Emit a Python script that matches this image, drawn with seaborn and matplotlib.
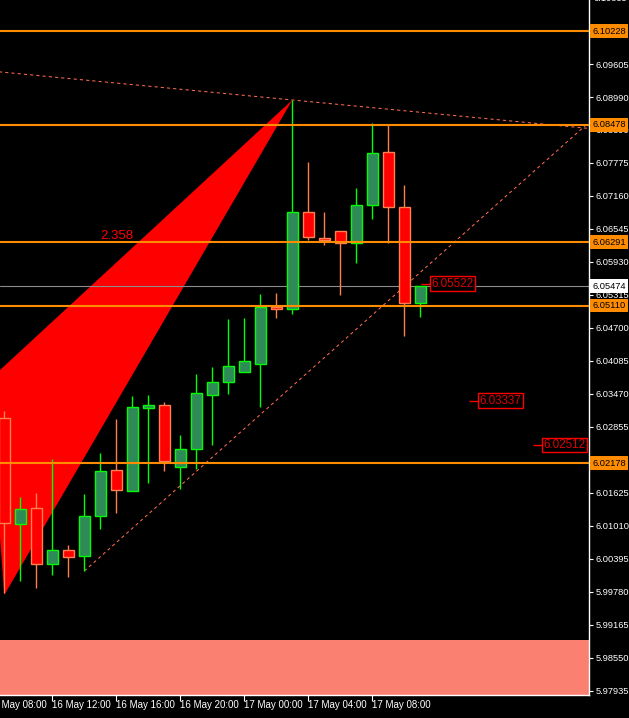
import numpy as np
import pandas as pd
import seaborn as sns
import matplotlib
matplotlib.use("Agg")
import matplotlib.pyplot as plt
import matplotlib.transforms as mtransforms
from matplotlib.patches import Polygon

# ---------------- data ----------------
# hourly candles, index 0 = 16 May 09:00
opens  = [6.03017, 6.01042, 6.01340, 6.00296, 6.00557, 6.00445, 6.01191, 6.02048, 6.01657,
          6.03203, 6.03259, 6.02104, 6.02439, 6.03446, 6.03688, 6.03874, 6.04023, 6.05085,
          6.05048, 6.06856, 6.06371, 6.06502, 6.06278, 6.06986, 6.07974, 6.06949, 6.05160]
highs  = [6.03148, 6.01545, 6.01620, 6.02253, 6.00650, 6.01601, 6.02365, 6.02998, 6.03427,
          6.03446, 6.03315, 6.02700, 6.03837, 6.03967, 6.04862, 6.04880, 6.05328, 6.05346,
          6.08943, 6.07787, 6.06856, 6.06502, 6.07303, 6.08514, 6.08495, 6.07359, 6.05474]
lows   = [5.99756, 5.99980, 5.99849, 6.00091, 6.00054, 6.00166, 6.00949, 6.01247, 6.01657,
          6.01806, 6.02029, 6.01694, 6.02067, 6.02514, 6.03464, 6.03874, 6.03222, 6.04880,
          6.04955, 6.06334, 6.06241, 6.05309, 6.05905, 6.06725, 6.06278, 6.04545, 6.04899]
closes = [6.01060, 6.01321, 6.00296, 6.00557, 6.00427, 6.01191, 6.02029, 6.01675, 6.03222,
          6.03259, 6.02216, 6.02439, 6.03483, 6.03688, 6.03986, 6.04079, 6.05085, 6.05048,
          6.06856, 6.06390, 6.06334, 6.06278, 6.06986, 6.07955, 6.06949, 6.05160, 6.05474]

tick_pos    = [-1, 3, 7, 11, 15, 19, 23]
tick_labels = ["16 May 08:00", "16 May 12:00", "16 May 16:00", "16 May 20:00",
               "17 May 00:00", "17 May 04:00", "17 May 08:00"]

ytick_vals   = [6.09605, 6.08990, 6.08390, 6.07775, 6.07160, 6.06545, 6.05930, 6.05315,
                6.04700, 6.04085, 6.03470, 6.02855, 6.01625, 6.01010, 6.00395, 5.99780,
                5.99165, 5.98550, 5.97935]
ytick_labels = ["6.09605", "6.08990", "6.08390", "6.07775", "6.07160", "6.06545", "6.05930",
                "6.05315", "6.04700", "6.04085", "6.03470", "6.02855", "6.01625", "6.01010",
                "6.00395", "5.99780", "5.99165", "5.98550", "5.97935"]
top_label = "6.10835"

levels = [6.10228, 6.08478, 6.06291, 6.05110, 6.02178]
bid = 6.05474

tri_x = [-1.0, 0.0, 18.0]
tri_y = [6.03710, 5.99720, 6.08943]

trend1_x = [-1, 37]
trend1_y = [6.09487, 6.08399]
trend2_x = [5, 37]
trend2_y = [6.00166, 6.08648]

ratio_text = "2.358"
ratio_x, ratio_y = 5.98, 6.06408

box_idx = [26, 29, 33]
box_vals = [6.05522, 6.03337, 6.02512]

zone_low, zone_high = 5.97800, 5.98880

# ---------------- style ----------------
sns.set_theme(style="dark", rc={"axes.facecolor": "black", "figure.facecolor": "black"})
plt.rcParams['font.family'] = ['Liberation Sans', 'DejaVu Sans']

fig = plt.figure(figsize=(6.29, 7.18), dpi=100)
fig.patch.set_facecolor("black")
ax = fig.add_axes([0, 23 / 718, 589 / 629, 695 / 718])
ax.set_facecolor("black")
ax.set_xlim(-0.27, 36.54)
ax.set_ylim(5.97855, 6.10806)

x = np.arange(len(opens))
o = np.array(opens); h = np.array(highs); l = np.array(lows); c = np.array(closes)
up = c >= o
dn = ~up

# zone
ax.axhspan(zone_low, zone_high, color="#FA8072", lw=0, zorder=1)
# triangle
ax.add_patch(Polygon(list(zip(tri_x, tri_y)), closed=True, fc="#FF0000", ec="none", zorder=1.5))
# bid line
ax.axhline(bid, color="#8C8C8C", lw=0.8, zorder=2)
# trend lines
for tx, ty in [(trend1_x, trend1_y), (trend2_x, trend2_y)]:
    sns.lineplot(x=tx, y=ty, ax=ax, color="#FF6A4D", lw=0.75, linestyle=(0, (3, 3)),
                 zorder=2.2, legend=False)

# candles
ax.vlines(x[up], l[up], h[up], color="#00FF00", lw=1.0, zorder=3)
ax.vlines(x[dn], l[dn], h[dn], color="#FF7F50", lw=1.0, zorder=3)
bh = np.abs(c - o)
bh = np.where(bh < 0.00008, 0.00008, bh)
ax.bar(x[up], bh[up], bottom=np.minimum(o, c)[up], width=0.66, color="#2E8B57",
       edgecolor="#00FF00", lw=1.0, zorder=3.5)
ax.bar(x[dn], bh[dn], bottom=np.minimum(o, c)[dn], width=0.66, color="#FF0000",
       edgecolor="#FF7F50", lw=1.0, zorder=3.5)

# horizontal levels
for lv in levels:
    ax.axhline(lv, color="#FF8C00", lw=1.5, zorder=4)

# ratio text
ax.text(ratio_x, ratio_y, ratio_text, color="#FF0000", fontsize=9.5, ha="left", va="center", zorder=5)

# boxed price labels
for bi, bv in zip(box_idx, box_vals):
    ax.hlines(bv, bi + 0.04, bi + 0.67, color="#FF0000", lw=1.0, zorder=5)
    ax.text(bi + 0.69, bv, f"{bv:.5f}", color="#E00000", fontsize=8.4, ha="left", va="center",
            zorder=5, bbox=dict(boxstyle="square,pad=0.12", fc="black", ec="#FF0000", lw=1.0))

# spines
for s in ["left", "top"]:
    ax.spines[s].set_visible(False)
for s in ["right", "bottom"]:
    ax.spines[s].set_visible(True)
    ax.spines[s].set_color("white")
    ax.spines[s].set_linewidth(1.0)

# y axis on right
ax.yaxis.tick_right()
ax.set_yticks(ytick_vals)
ax.set_yticklabels(ytick_labels)
ax.tick_params(axis="y", colors="white", labelcolor="white", labelsize=6.7, length=3, width=0.8,
               pad=1.5, direction="out", right=True, left=False)
ax.grid(False)

# x axis ticks
ax.set_xticks([p for p in tick_pos if p >= 0])
ax.set_xticklabels([])
ax.tick_params(axis="x", colors="white", length=4, width=0.8, direction="out", bottom=True)
tr_x = mtransforms.blended_transform_factory(ax.transData, ax.transAxes)
for p, lab in zip(tick_pos, tick_labels):
    ax.text(p - 0.05, -5 / 695, lab, transform=tr_x, color="white", fontsize=7,
            ha="left", va="top", clip_on=False)

# highlighted right-axis labels
tr_y = mtransforms.blended_transform_factory(ax.transAxes, ax.transData)
for lv in levels:
    ax.text(1 + 3.5 / 589, lv, f"{lv:.5f}", transform=tr_y, fontsize=6.7, color="black",
            ha="left", va="center", clip_on=False, zorder=10,
            bbox=dict(boxstyle="square,pad=0.25", fc="#FF8C00", ec="none"))
ax.text(1 + 3.5 / 589, bid, f"{bid:.5f}", transform=tr_y, fontsize=6.7, color="black",
        ha="left", va="center", clip_on=False, zorder=10,
        bbox=dict(boxstyle="square,pad=0.25", fc="white", ec="none"))
ax.text(1 + 5 / 589, 6.10835, top_label, transform=tr_y, fontsize=6.7, color="white",
        ha="left", va="center", clip_on=False, zorder=10)

ax.set_xlabel("")
ax.set_ylabel("")
fig.savefig("out.png", dpi=100, facecolor="black")
